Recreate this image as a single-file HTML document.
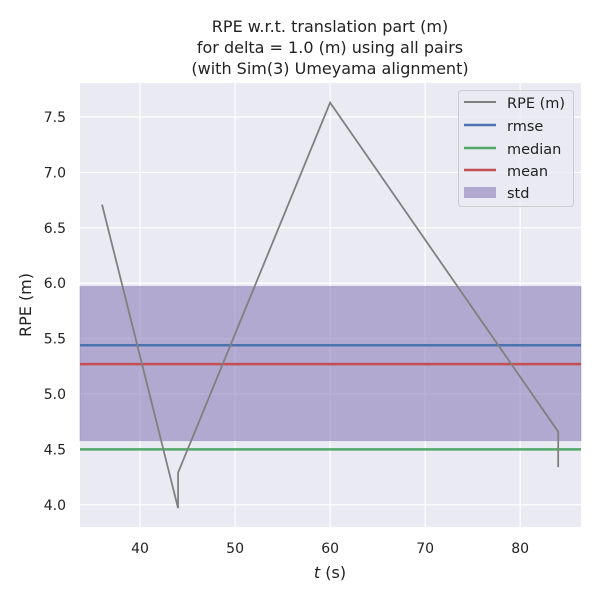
<!DOCTYPE html>
<html><head><meta charset="utf-8"><style>
body{margin:0;background:#fff;}
svg{font-family:"DejaVu Sans","Liberation Sans",sans-serif;}
</style></head><body>
<svg id="chart" width="600" height="600">
<text x="330" y="32" text-anchor="middle" font-size="16" fill="#222">RPE w.r.t. translation part (m)</text>
<text x="330" y="53" text-anchor="middle" font-size="16" fill="#222">for delta = 1.0 (m) using all pairs</text>
<text x="330" y="74" text-anchor="middle" font-size="16" fill="#222">(with Sim(3) Umeyama alignment)</text>
<rect x="80" y="83" width="501" height="444" fill="#eaeaf2"/>
<g id="grid"></g><g id="marks"></g><g id="ticks"></g>
<text x="330" y="578" text-anchor="middle" font-size="16" fill="#222"><tspan font-style="italic">t</tspan> (s)</text>
<text x="31" y="305" text-anchor="middle" font-size="16" fill="#222" transform="rotate(-90 31 305)">RPE (m)</text>
<g>
<rect x="458.5" y="90.5" width="115" height="116" rx="3" fill="#eaeaf2" fill-opacity="0.8" stroke="#ccc"/>
<line x1="464" y1="102" x2="496" y2="102" stroke="#808080" stroke-width="2"/>
<text x="507" y="108" font-size="14.5" fill="#222">RPE (m)</text>
<line x1="464" y1="125" x2="496" y2="125" stroke="#4c72b0" stroke-width="2.5"/>
<text x="507" y="131" font-size="14.5" fill="#222">rmse</text>
<line x1="464" y1="148" x2="496" y2="148" stroke="#55a868" stroke-width="2.5"/>
<text x="507" y="154" font-size="14.5" fill="#222">median</text>
<line x1="464" y1="170" x2="496" y2="170" stroke="#c44e52" stroke-width="2.5"/>
<text x="507" y="176" font-size="14.5" fill="#222">mean</text>
<rect x="464" y="187" width="32" height="11" fill="#8172b3" fill-opacity="0.55"/>
<text x="507" y="198" font-size="14.5" fill="#222">std</text>
</g>
</svg>
<script>
const times=[36,44,44,60,84,84];
const rpeValues=[6.71,3.97,4.29,7.63,4.66,4.34];
const rmse=5.44, median=4.50, mean=5.27, stdLow=4.58, stdHigh=5.97;
const xTicks=[40,50,60,70,80];
const yTicks=[4.0,4.5,5.0,5.5,6.0,6.5,7.0,7.5];
const X0=80,X1=581,Y0=83,Y1=527,xmin=33.68,xmax=86.4,ymin=3.80,ymax=7.807;
const sx=v=>X0+(v-xmin)/(xmax-xmin)*(X1-X0);
const sy=v=>Y1-(v-ymin)/(ymax-ymin)*(Y1-Y0);
const NS="http://www.w3.org/2000/svg";
function mk(tag,attrs,parent){const e=document.createElementNS(NS,tag);for(const k in attrs)e.setAttribute(k,attrs[k]);document.getElementById(parent).appendChild(e);return e;}
xTicks.forEach(t=>{
 const g=mk('line',{x1:sx(t),x2:sx(t),y1:Y0,y2:Y1,stroke:'#fff','stroke-width':1.2},'grid');
 
 
 const l=mk('text',{x:sx(t),y:Y1+26,'text-anchor':'middle','font-size':14,fill:'#222'},'ticks');
 l.textContent=t;
 
 
});
yTicks.forEach(t=>{
 const g=mk('line',{x1:X0,x2:X1,y1:sy(t),y2:sy(t),stroke:'#fff','stroke-width':1.2},'grid');
 
 
 const l=mk('text',{x:X0-14,y:sy(t)+5,'text-anchor':'end','font-size':14,fill:'#222'},'ticks');
 l.textContent=t.toFixed(1);
 
 
});
const band=mk('rect',{x:X0,width:X1-X0,y:sy(stdHigh),height:sy(stdLow)-sy(stdHigh),fill:'#8172b3','fill-opacity':0.55,stroke:'#8172b3','stroke-opacity':0.4},'marks');


[[rmse,'#4c72b0','rmse-line'],[median,'#55a868','median-line'],[mean,'#c44e52','mean-line']].forEach(([v,c,n])=>{
 const l=mk('line',{x1:X0,x2:X1,y1:sy(v),y2:sy(v),stroke:c,'stroke-width':2.5},'marks');
 
 
});
const pts=times.map((t,i)=>sx(t)+','+sy(rpeValues[i])).join(' ');
const p=mk('polyline',{points:pts,fill:'none',stroke:'#808080','stroke-width':1.8},'marks');


</script>
</body></html>
